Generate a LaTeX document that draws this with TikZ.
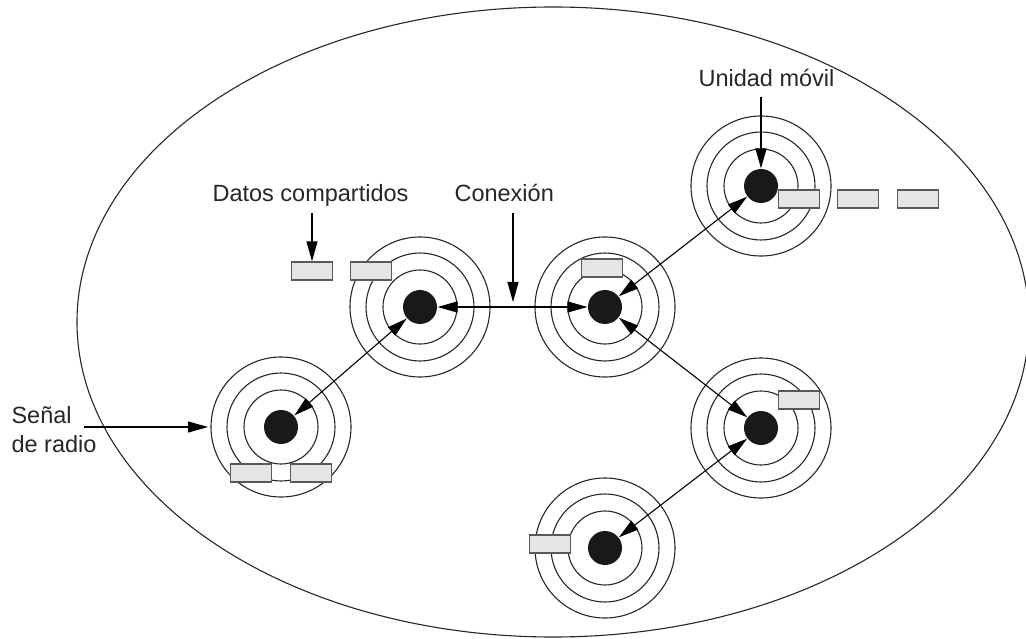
\documentclass[tikz,border=0pt]{standalone}
\usepackage{fontspec}
\setmainfont{Liberation Sans}
\usetikzlibrary{arrows.meta}
\begin{document}
\begin{tikzpicture}[x=1pt,y=-1pt,
  line width=1.1pt,
  ring/.style={draw=black!85,line width=1.1pt},
  dot/.style={circle,fill=black!90,minimum size=34pt,inner sep=0pt},
  datum/.style={draw=black!65,fill=black!10,line width=1.3pt,minimum width=41pt,minimum height=18pt,inner sep=0pt},
  lbl/.style={font=\fontsize{23.5}{29}\selectfont,inner sep=0pt,text=black!85},
  tip/.style={-{Triangle[length=20pt,width=11pt]}},
  dtip/.style={{Triangle[length=20pt,width=11pt]}-{Triangle[length=20pt,width=11pt]}}
]
\useasboundingbox (0,0) rectangle (1026,639);
\draw[line width=1.1pt,black!85] (553,322) ellipse [x radius=476, y radius=315];
% units
\foreach \n/\x/\y in {A/761/186, B/605/307, C/420/307, D/281/427, E/761/428, F/605/548}{
  \draw[ring] (\x,\y) circle[radius=37] (\x,\y) circle[radius=54] (\x,\y) circle[radius=70];
  \node[dot] (\n) at (\x,\y) {};
}
% data packets
\node[datum] (a1) at (799,199) {};
\node[datum] (a2) at (858,199) {};
\node[datum] (a3) at (918,199) {};
\node[datum] (c1) at (312,271) {};
\node[datum] (c2) at (371,271) {};
\node[datum] (b1) at (602,268) {};
\node[datum] (d1) at (251,473) {};
\node[datum] (d2) at (311,473) {};
\node[datum] (e1) at (799,400) {};
\node[datum] (f1) at (550,544) {};
% connections
\draw[dtip] (D) -- (C);
\draw[dtip] (C) -- (B);
\draw[dtip] (B) -- (A);
\draw[dtip] (B) -- (E);
\draw[dtip] (E) -- (F);
% labels
\node[lbl,anchor=base west] (um) at (698,87) {Unidad móvil};
\node[lbl,anchor=base west] (dc) at (212,202) {Datos compartidos};
\node[lbl,anchor=base west] (cx) at (454,202) {Conexión};
\node[lbl,anchor=base west,align=left] (sr) at (11,423) {Señal};
\node[lbl,anchor=base west] (sr2) at (11,452) {de radio};
\coordinate (umS) at (761,97);
\coordinate (dcS) at (312,213);
\coordinate (cxS) at (513,213);
\coordinate (cxE) at (513,302);
\coordinate (srS) at (84,427);
\coordinate (srE) at (208,427);
\draw[tip] (umS) -- (A);
\draw[tip] (dcS) -- (c1);
\draw[tip] (cxS) -- (cxE);
\draw[tip] (srS) -- (srE);
\end{tikzpicture}
\end{document}
